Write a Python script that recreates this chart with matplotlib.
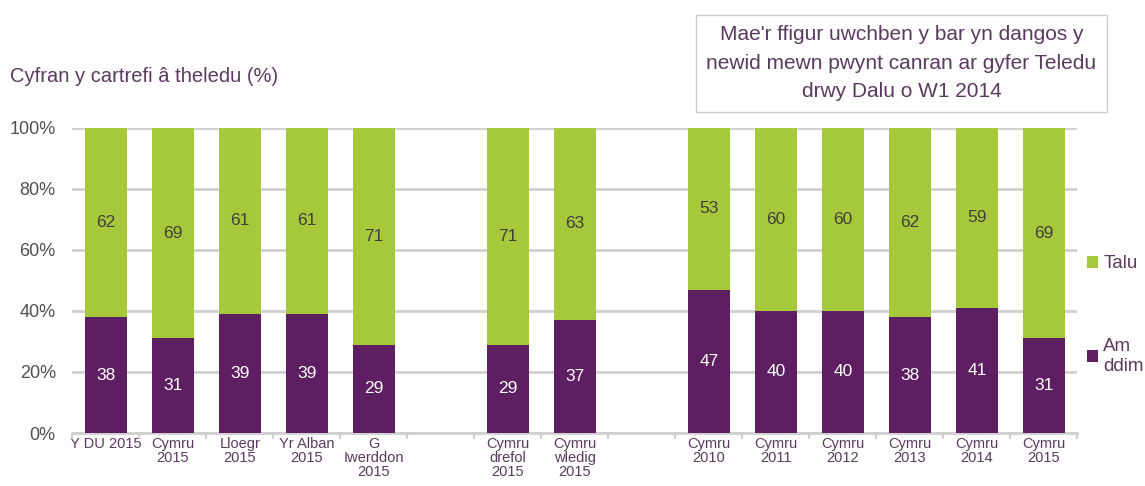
import matplotlib
matplotlib.use("Agg")
import matplotlib.pyplot as plt
from matplotlib.patches import Patch
import numpy as np

plt.rcParams['font.family'] = ['Liberation Sans', 'DejaVu Sans']

categories = ["Y DU 2015", "Cymru\n2015", "Lloegr\n2015", "Yr Alban\n2015", "G\nIwerddon\n2015",
              "Cymru\ndrefol\n2015", "Cymru\nwledig\n2015",
              "Cymru\n2010", "Cymru\n2011", "Cymru\n2012", "Cymru\n2013", "Cymru\n2014", "Cymru\n2015"]
slots = [0, 1, 2, 3, 4, 6, 7, 9, 10, 11, 12, 13, 14]
am_ddim = [38, 31, 39, 39, 29, 29, 37, 47, 40, 40, 38, 41, 31]
talu = [62, 69, 61, 61, 71, 71, 63, 53, 60, 60, 62, 59, 69]
series_labels = ["Talu", "Am\nddim"]

GREEN = "#A6C93B"
PURPLE = "#5D1F62"
TXT = "#5A3A5E"
GRID = "#D0D0D0"

fig = plt.figure(figsize=(11.45, 4.86), dpi=100)
ax = fig.add_axes([0.0633, 0.109, 0.8777, 0.628])

w = 0.63
ax.bar(slots, am_ddim, width=w, color=PURPLE, zorder=3)
ax.bar(slots, talu, width=w, bottom=am_ddim, color=GREEN, zorder=3)

for x, a, t in zip(slots, am_ddim, talu):
    ax.text(x, a / 2, str(a), ha="center", va="center", color="white", fontsize=12.5)
    ax.text(x, a + t / 2, str(t), ha="center", va="center", color="#404040", fontsize=12.5)

ax.set_xlim(-0.5, 14.5)
ax.set_ylim(0, 100)
ax.set_yticks(range(0, 101, 20))
ax.set_yticklabels([f"{v}%" for v in range(0, 101, 20)], fontsize=13, color="#505050")
ax.yaxis.grid(True, color=GRID, linewidth=2, zorder=0)
ax.tick_params(axis="y", length=0, pad=12)

ax.set_xticks(slots)
ax.set_xticklabels(categories, fontsize=10.5, color=TXT, linespacing=1.0, va="top")
ax.set_xticks(np.arange(-0.5, 15, 1), minor=True)
ax.tick_params(axis="x", which="major", length=0, pad=3)
ax.tick_params(axis="x", which="minor", length=4, color=GRID, width=1.5)

for s in ["top", "right", "left"]:
    ax.spines[s].set_visible(False)
ax.spines["bottom"].set_color(GRID)
ax.spines["bottom"].set_linewidth(2)

fig.text(0.009, 0.843, "Cyfran y cartrefi â theledu (%)", fontsize=14.5, color=TXT, va="center")

fig.text(0.7873, 0.870,
         "Mae'r ffigur uwchben y bar yn dangos y\nnewid mewn pwynt canran ar gyfer Teledu\ndrwy Dalu o W1 2014",
         ha="center", va="center", fontsize=15, color=TXT, linespacing=1.65,
         bbox=dict(boxstyle="square,pad=0.5", facecolor="white", edgecolor="#CCCCCC", linewidth=1))

handles = [Patch(facecolor=GREEN), Patch(facecolor=PURPLE)]
fig.legend(handles, series_labels, loc="upper left", bbox_to_anchor=(0.943, 0.49),
           frameon=False, fontsize=13.5, labelcolor=TXT, handlelength=0.6, handleheight=0.6,
           handletextpad=0.25, labelspacing=3.5, borderaxespad=0)

fig.savefig("out.png", dpi=100)
